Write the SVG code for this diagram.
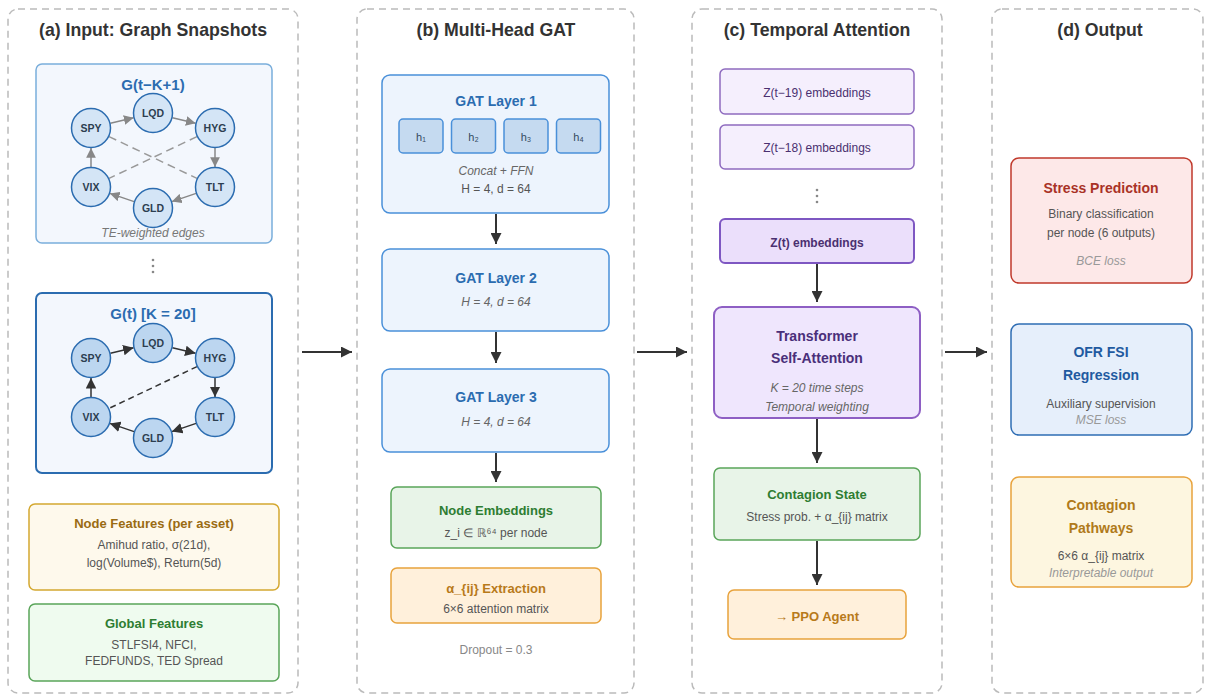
<svg xmlns="http://www.w3.org/2000/svg" width="1207" height="695" viewBox="0 0 1207 695">
<defs>
<style>
text{font-family:"Liberation Sans",Arial,sans-serif;text-anchor:middle}
.panel{fill:#fff;stroke:#bbb;stroke-width:1.5;stroke-dasharray:7 5}
.ptitle{font-size:17.7px;font-weight:bold;fill:#333}
.gbox1{fill:#f3f7fd;stroke:#7aaedb;stroke-width:1.5}
.gbox2{fill:#f3f7fd;stroke:#2b6cb0;stroke-width:2}
.gtitle{font-size:15px;font-weight:bold;fill:#2b6cb0}
.n1{fill:#d4e5f6;stroke:#2b6cb0;stroke-width:1.5}
.n2{fill:#bcd6f0;stroke:#2b6cb0;stroke-width:1.5}
.nt{font-size:10.5px;font-weight:bold;fill:#2c3e50}
.e1{stroke:#888;stroke-width:1.5;fill:none}
.e2{stroke:#333;stroke-width:1.5;fill:none}
.d1{stroke:#999;stroke-width:1.5;stroke-dasharray:8 5;fill:none}
.d2{stroke:#333;stroke-width:1.5;stroke-dasharray:6 4;fill:none}
.cap{font-size:12px;font-style:italic;fill:#777}
.sub{font-size:12px;fill:#555}
.subi{font-size:12px;font-style:italic;fill:#666}
.subl{font-size:12px;font-style:italic;fill:#999}
.blue{fill:#edf4fd;stroke:#4a90d9;stroke-width:1.5}
.btitle{font-size:14px;font-weight:bold;fill:#2b6cb0}
.head{fill:#c5daf0;stroke:#4a90d9;stroke-width:1.5}
.green{fill:#e8f4e8;stroke:#5aa55a;stroke-width:1.5}
.gtxt{font-size:13px;font-weight:bold;fill:#2e7d32}
.orange{fill:#fff0db;stroke:#e8a33d;stroke-width:1.5}
.otxt{font-size:13px;font-weight:bold;fill:#b87a1a}
.purple{fill:#f5effd;stroke:#8e6bbf;stroke-width:1.5}
.ptxt{font-size:12px;fill:#4a3070}
.arrow{stroke:#333;stroke-width:2;fill:none}
</style>
<marker id="ag" viewBox="0 0 10 10" refX="10" refY="5" markerWidth="6.5" markerHeight="6.5" orient="auto"><path d="M0,0 L10,5 L0,10 z" fill="#888"/></marker>
<marker id="ad" viewBox="0 0 10 10" refX="10" refY="5" markerWidth="7" markerHeight="7" orient="auto"><path d="M0,0 L10,5 L0,10 z" fill="#333"/></marker>
<marker id="am" viewBox="0 0 10 10" refX="10" refY="5" markerWidth="5.5" markerHeight="5.5" orient="auto"><path d="M0,0 L10,5 L0,10 z" fill="#333"/></marker>
</defs>
<rect width="1207" height="695" fill="#fff"/>

<!-- Panels -->
<g id="panel-a"><rect class="panel" x="8" y="9" width="290" height="684" rx="10"/><text class="ptitle" x="153" y="36">(a) Input: Graph Snapshots</text></g>
<g id="panel-b"><rect class="panel" x="357" y="9" width="277" height="684" rx="10"/><text class="ptitle" x="496" y="36">(b) Multi-Head GAT</text></g>
<g id="panel-c"><rect class="panel" x="692" y="9" width="250" height="684" rx="10"/><text class="ptitle" x="817" y="36">(c) Temporal Attention</text></g>
<g id="panel-d"><rect class="panel" x="992" y="9" width="211" height="684" rx="10"/><text class="ptitle" x="1100" y="36">(d) Output</text></g>

<!-- Graph snapshot 1 -->
<g id="graph-t-K1">
<rect class="gbox1" x="36" y="64" width="236" height="179" rx="6"/>
<text class="gtitle" x="153" y="90">G(t−K+1)</text>
<line class="d1" x1="109" y1="136.6" x2="197" y2="178.4"/>
<line class="d1" x1="197" y1="136.6" x2="109" y2="178.4"/>
<line class="e1" x1="110.4" y1="123.3" x2="133.6" y2="117.7" marker-end="url(#ag)"/>
<line class="e1" x1="172.4" y1="117.7" x2="195.6" y2="123.3" marker-end="url(#ag)"/>
<line class="e1" x1="215" y1="148" x2="215" y2="167" marker-end="url(#ag)"/>
<line class="e1" x1="196.1" y1="193.4" x2="171.9" y2="201.6" marker-end="url(#ag)"/>
<line class="e1" x1="134.1" y1="201.6" x2="109.9" y2="193.4" marker-end="url(#ag)"/>
<line class="e1" x1="91" y1="167" x2="91" y2="148" marker-end="url(#ag)"/>
<g id="g1-spy"><circle class="n1" cx="91" cy="128" r="19.5"/><text class="nt" x="91" y="132">SPY</text></g>
<g id="g1-lqd"><circle class="n1" cx="153" cy="113" r="19.5"/><text class="nt" x="153" y="117">LQD</text></g>
<g id="g1-hyg"><circle class="n1" cx="215" cy="128" r="19.5"/><text class="nt" x="215" y="132">HYG</text></g>
<g id="g1-tlt"><circle class="n1" cx="215" cy="187" r="19.5"/><text class="nt" x="215" y="191">TLT</text></g>
<g id="g1-gld"><circle class="n1" cx="153" cy="208" r="19.5"/><text class="nt" x="153" y="212">GLD</text></g>
<g id="g1-vix"><circle class="n1" cx="91" cy="187" r="19.5"/><text class="nt" x="91" y="191">VIX</text></g>
<text class="cap" x="153" y="237">TE-weighted edges</text>
</g>

<g id="dots-a" fill="#888"><circle cx="153" cy="260" r="1.3"/><circle cx="153" cy="266" r="1.3"/><circle cx="153" cy="272" r="1.3"/></g>

<!-- Graph snapshot 2 -->
<g id="graph-t">
<rect class="gbox2" x="36" y="293" width="236" height="180" rx="6"/>
<text class="gtitle" x="153" y="319">G(t) [K = 20]</text>
<line class="d2" x1="197" y1="366.6" x2="109" y2="408.4"/>
<line class="e2" x1="110.4" y1="353.3" x2="133.6" y2="347.7" marker-end="url(#ad)"/>
<line class="e2" x1="172.4" y1="347.7" x2="195.6" y2="353.3" marker-end="url(#ad)"/>
<line class="e2" x1="215" y1="378" x2="215" y2="397" marker-end="url(#ad)"/>
<line class="e2" x1="196.1" y1="423.4" x2="171.9" y2="431.6" marker-end="url(#ad)"/>
<line class="e2" x1="134.1" y1="431.6" x2="109.9" y2="423.4" marker-end="url(#ad)"/>
<line class="e2" x1="91" y1="397" x2="91" y2="378" marker-end="url(#ad)"/>
<g id="g2-spy"><circle class="n2" cx="91" cy="358" r="19.5"/><text class="nt" x="91" y="362">SPY</text></g>
<g id="g2-lqd"><circle class="n2" cx="153" cy="343" r="19.5"/><text class="nt" x="153" y="347">LQD</text></g>
<g id="g2-hyg"><circle class="n2" cx="215" cy="358" r="19.5"/><text class="nt" x="215" y="362">HYG</text></g>
<g id="g2-tlt"><circle class="n2" cx="215" cy="417" r="19.5"/><text class="nt" x="215" y="421">TLT</text></g>
<g id="g2-gld"><circle class="n2" cx="153" cy="438" r="19.5"/><text class="nt" x="153" y="442">GLD</text></g>
<g id="g2-vix"><circle class="n2" cx="91" cy="417" r="19.5"/><text class="nt" x="91" y="421">VIX</text></g>
</g>

<g id="node-features">
<rect x="29" y="504" width="250" height="86" rx="6" fill="#fef9ec" stroke="#d4a830" stroke-width="1.5"/>
<text x="154" y="528" font-size="13" font-weight="bold" fill="#9a6b12">Node Features (per asset)</text>
<text class="sub" x="154" y="549">Amihud ratio, σ(21d),</text>
<text class="sub" x="154" y="567">log(Volume$), Return(5d)</text>
</g>
<g id="global-features">
<rect x="29" y="604" width="250" height="77" rx="6" fill="#effbef" stroke="#5aa55a" stroke-width="1.5"/>
<text class="gtxt" x="154" y="628">Global Features</text>
<text class="sub" x="154" y="649">STLFSI4, NFCI,</text>
<text class="sub" x="154" y="665">FEDFUNDS, TED Spread</text>
</g>

<!-- Panel b -->
<g id="gat1">
<rect class="blue" x="382" y="75" width="227" height="138" rx="8"/>
<text class="btitle" x="496" y="106">GAT Layer 1</text>
<rect class="head" x="399" y="119" width="44" height="34" rx="4"/>
<rect class="head" x="451.5" y="119" width="44" height="34" rx="4"/>
<rect class="head" x="504" y="119" width="44" height="34" rx="4"/>
<rect class="head" x="556.5" y="119" width="44" height="34" rx="4"/>
<text x="421" y="141" font-size="11" fill="#34495e">h₁</text>
<text x="473.5" y="141" font-size="11" fill="#34495e">h₂</text>
<text x="526" y="141" font-size="11" fill="#34495e">h₃</text>
<text x="578.5" y="141" font-size="11" fill="#34495e">h₄</text>
<text class="subi" x="496" y="175">Concat + FFN</text>
<text class="sub" x="496" y="193" fill="#666">H = 4, d = 64</text>
</g>
<g id="gat2">
<rect class="blue" x="382" y="249" width="227" height="82" rx="8"/>
<text class="btitle" x="496" y="283">GAT Layer 2</text>
<text class="subi" x="496" y="306">H = 4, d = 64</text>
</g>
<g id="gat3">
<rect class="blue" x="382" y="369" width="227" height="83" rx="8"/>
<text class="btitle" x="496" y="402">GAT Layer 3</text>
<text class="subi" x="496" y="426">H = 4, d = 64</text>
</g>
<g id="node-emb">
<rect class="green" x="391" y="487" width="210" height="61" rx="6"/>
<text class="gtxt" x="496" y="515">Node Embeddings</text>
<text class="sub" x="496" y="537">z_i ∈ ℝ⁶⁴ per node</text>
</g>
<g id="alpha-ext">
<rect class="orange" x="391" y="568" width="210" height="55" rx="6"/>
<text class="otxt" x="496" y="593">α_{ij} Extraction</text>
<text class="sub" x="496" y="613">6×6 attention matrix</text>
</g>
<text x="496" y="654" font-size="12" fill="#888">Dropout = 0.3</text>

<!-- Panel c -->
<g id="z19"><rect class="purple" x="720" y="69" width="194" height="45" rx="5"/><text class="ptxt" x="817" y="97">Z(t−19) embeddings</text></g>
<g id="z18"><rect class="purple" x="720" y="125" width="194" height="44" rx="5"/><text class="ptxt" x="817" y="152">Z(t−18) embeddings</text></g>
<g id="dots-c" fill="#888"><circle cx="817" cy="190" r="1.3"/><circle cx="817" cy="196" r="1.3"/><circle cx="817" cy="202" r="1.3"/></g>
<g id="zt"><rect x="720" y="219" width="194" height="44" rx="5" fill="#ebdffb" stroke="#7e57c2" stroke-width="2"/><text x="817" y="247" font-size="12" font-weight="bold" fill="#4a3070">Z(t) embeddings</text></g>
<g id="transformer">
<rect x="714" y="307" width="206" height="111" rx="8" fill="#efe6fd" stroke="#8e5fc4" stroke-width="2"/>
<text x="817" y="341" font-size="14" font-weight="bold" fill="#4a2f7a">Transformer</text>
<text x="817" y="363" font-size="14" font-weight="bold" fill="#4a2f7a">Self-Attention</text>
<text class="subi" x="817" y="392" fill="#777">K = 20 time steps</text>
<text class="subi" x="817" y="411" fill="#777">Temporal weighting</text>
</g>
<g id="contagion-state">
<rect class="green" x="714" y="468" width="206" height="72" rx="6"/>
<text class="gtxt" x="817" y="499">Contagion State</text>
<text class="sub" x="817" y="521">Stress prob. + α_{ij} matrix</text>
</g>
<g id="ppo">
<rect class="orange" x="728" y="590" width="178" height="49" rx="6"/>
<text class="otxt" x="817" y="621">→ PPO Agent</text>
</g>

<!-- Panel d -->
<g id="stress">
<rect x="1011" y="158" width="181" height="125" rx="8" fill="#fde8e8" stroke="#c0392b" stroke-width="1.5"/>
<text x="1101" y="193" font-size="14" font-weight="bold" fill="#a93226">Stress Prediction</text>
<text class="sub" x="1101" y="218">Binary classification</text>
<text class="sub" x="1101" y="237">per node (6 outputs)</text>
<text class="subl" x="1101" y="265">BCE loss</text>
</g>
<g id="ofr">
<rect x="1011" y="324" width="181" height="111" rx="8" fill="#e6effb" stroke="#2e6db4" stroke-width="1.5"/>
<text x="1101" y="357" font-size="14" font-weight="bold" fill="#1f5aa0">OFR FSI</text>
<text x="1101" y="380" font-size="14" font-weight="bold" fill="#1f5aa0">Regression</text>
<text class="sub" x="1101" y="408">Auxiliary supervision</text>
<text class="subl" x="1101" y="424">MSE loss</text>
</g>
<g id="pathways">
<rect x="1011" y="477" width="181" height="110" rx="8" fill="#fdf6e0" stroke="#e8a33d" stroke-width="1.5"/>
<text x="1101" y="510" font-size="14" font-weight="bold" fill="#b07a1a">Contagion</text>
<text x="1101" y="533" font-size="14" font-weight="bold" fill="#b07a1a">Pathways</text>
<text class="sub" x="1101" y="560">6×6 α_{ij} matrix</text>
<text class="subl" x="1101" y="577">Interpretable output</text>
</g>

<!-- Connectors -->
<g id="connectors">
<line class="arrow" x1="302" y1="352" x2="352" y2="352" marker-end="url(#am)"/>
<line class="arrow" x1="637" y1="352" x2="687" y2="352" marker-end="url(#am)"/>
<line class="arrow" x1="945" y1="352" x2="987" y2="352" marker-end="url(#am)"/>
<line class="arrow" x1="496" y1="214" x2="496" y2="244" marker-end="url(#am)"/>
<line class="arrow" x1="496" y1="332" x2="496" y2="363" marker-end="url(#am)"/>
<line class="arrow" x1="496" y1="453" x2="496" y2="482" marker-end="url(#am)"/>
<line class="arrow" x1="817" y1="264" x2="817" y2="302" marker-end="url(#am)"/>
<line class="arrow" x1="817" y1="419" x2="817" y2="463" marker-end="url(#am)"/>
<line class="arrow" x1="817" y1="541" x2="817" y2="585" marker-end="url(#am)"/>
</g>
</svg>
